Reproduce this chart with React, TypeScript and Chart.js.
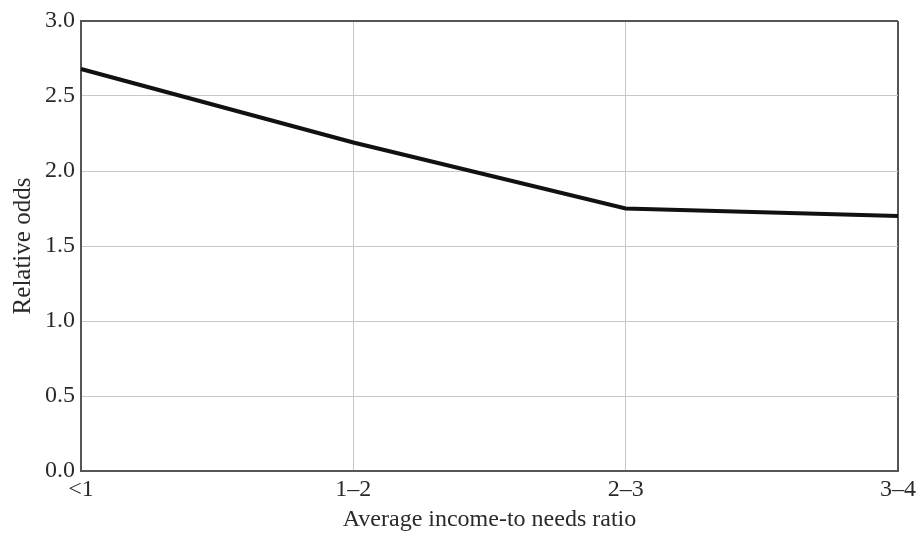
import React, { useEffect, useRef } from "react";
import { Chart, registerables } from "chart.js";

Chart.register(...registerables);

const categories = ["<1", "1–2", "2–3", "3–4"];
const relativeOdds = [2.68, 2.19, 1.75, 1.7];
const yTicks = [0, 0.5, 1, 1.5, 2, 2.5, 3];

const FONT = "'Liberation Serif', 'DejaVu Serif', serif";
const GRID = "#c8c8c8";
const FRAME = "#555555";
const TEXT = "#2a2a2a";

export default function App() {
  const ref = useRef<HTMLCanvasElement | null>(null);

  useEffect(() => {
    if (!ref.current) return;
    const chart = new Chart(ref.current, {
      type: "line",
      data: {
        labels: categories,
        datasets: [
          {
            data: relativeOdds,
            borderColor: "#111111",
            borderWidth: 4,
            pointRadius: 0,
            tension: 0,
            fill: false,
          },
        ],
      },
      options: {
        animation: false,
        responsive: false,
        maintainAspectRatio: false,
        layout: { padding: { left: 0, right: 24, top: 21, bottom: 0 } },
        plugins: { legend: { display: false }, tooltip: { enabled: false } },
        scales: {
          x: {
            offset: false,
            afterFit: (s: any) => {
              s.height = 64;
            },
            grid: {
              drawTicks: false,
              color: (ctx: any) =>
                ctx.index === categories.length - 1 ? FRAME : GRID,
              lineWidth: (ctx: any) =>
                ctx.index === categories.length - 1 ? 2 : 1,
            },
            border: { color: FRAME, width: 2 },
            ticks: {
              color: TEXT,
              font: { family: FONT, size: 24 },
              padding: 4,
              maxRotation: 0,
            },
            title: {
              display: true,
              text: "Average income-to needs ratio",
              color: TEXT,
              font: { family: FONT, size: 24 },
              padding: { top: 0, bottom: 1 },
            },
          },
          y: {
            min: 0,
            max: 3,
            afterFit: (s: any) => {
              s.width = 81;
            },
            afterBuildTicks: (s: any) => {
              s.ticks = yTicks.map((v) => ({ value: v }));
            },
            grid: {
              drawTicks: false,
              color: (ctx: any) =>
                ctx.tick && ctx.tick.value === 3 ? FRAME : GRID,
              lineWidth: (ctx: any) =>
                ctx.tick && ctx.tick.value === 3 ? 2 : 1,
            },
            border: { color: FRAME, width: 2 },
            ticks: {
              color: TEXT,
              font: { family: FONT, size: 24 },
              padding: 6,
              callback: (v: any) => Number(v).toFixed(1),
            },
            title: {
              display: true,
              text: "Relative odds",
              color: TEXT,
              font: { family: FONT, size: 25 },
              padding: { top: 8, bottom: 0 },
            },
          },
        },
      },
    });
    return () => chart.destroy();
  }, []);

  return (
    <div style={{ position: "absolute", left: 0, top: 0, width: 922, height: 535, background: "#fff" }}>
      <canvas ref={ref} width={922} height={535} style={{ width: 922, height: 535 }} />
    </div>
  );
}
